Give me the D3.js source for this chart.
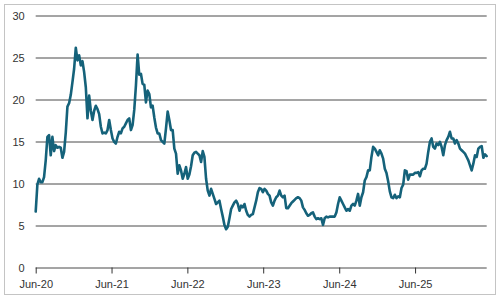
<!DOCTYPE html>
<html>
<head>
<meta charset="utf-8">
<script src="https://cdn.jsdelivr.net/npm/d3@7"></script>
<style>
  html, body { margin: 0; padding: 0; background: #fff; }
  svg { display: block; }
  text { font-family: "Liberation Sans", Arial, Helvetica, sans-serif; }
</style>
</head>
<body>
<svg id="chart" width="500" height="300"></svg>
<script>
// ---- data ----
const startDate = "2020-06-01";
const stepDays = 8.04; // sampling interval of the series
const values = [
  // Jun 2020 - mid 2021
  6.6, 9.8, 10.5, 10.1, 10.1, 10.7, 12.7, 15.5, 15.7, 13.3, 15.5, 13.8, 14.5, 14.2, 14.3, 14.2, 13.0, 13.7, 16.0, 19.1,
  19.5, 20.5, 22.0, 23.6, 26.1, 24.6, 25.2, 24.0, 24.5, 23.2, 21.4, 17.7, 20.4, 18.6, 17.5, 18.6, 19.2, 18.8, 18.2, 16.7,
  15.9, 16.0, 15.9, 16.3,
  17.5, 16.3, 15.3, 14.9, 14.7, 15.5, 16.1, 15.9, 16.5, 16.7, 17.1, 17.5, 17.7, 16.3, 16.9, 18.7, 21.6, 25.3, 22.9, 23.0,
  21.8, 21.7, 19.6, 21.0, 20.6, 19.0, 19.2, 17.8, 16.6, 15.9, 15.9, 15.1, 14.9, 14.7, 16.5, 18.5, 17.5, 16.3, 16.3, 14.1,
  13.5, 11.1, 12.1, 11.5, 10.5, 11.1, 11.9, 10.5,
  11.0, 12.0, 13.3, 13.6, 13.7, 13.5, 13.3, 12.5, 13.8, 13.1, 10.5, 9.1, 8.5, 9.3, 8.7, 8.1, 7.5, 7.7, 7.9, 6.9,
  6.0, 5.0, 4.5, 4.8, 5.8, 6.9, 7.3, 7.7, 7.9, 7.5, 6.7, 7.3, 7.1, 7.5, 6.7, 6.2, 6.0, 6.2, 6.3, 7.1,
  7.9, 8.9, 9.4, 9.3, 8.9, 9.3, 9.1, 8.7, 8.5, 7.7, 7.3, 7.9, 8.3, 8.5,
  9.1, 8.5, 8.3, 8.5, 7.0, 7.0, 7.3, 7.6, 7.8, 8.0, 8.2, 8.3, 8.2, 7.9, 7.1, 6.8, 6.4, 6.1, 6.2, 6.4,
  6.5, 6.0, 5.7, 5.8, 5.7, 5.8, 5.0, 5.8, 6.0, 5.9, 6.0, 6.0, 6.0, 6.0, 6.5, 7.5, 8.3, 7.9, 7.5, 7.1,
  6.7, 6.9, 6.7, 7.3, 7.5, 7.3, 7.9, 8.7, 7.3, 8.3, 8.9, 10.3, 10.7, 11.5,
  11.5, 13.1, 14.3, 14.1, 13.7, 13.3, 13.9, 13.5, 12.9, 11.7, 11.2, 10.2, 9.0, 8.3, 8.2, 8.6, 8.2, 8.4, 8.3, 9.4,
  9.8, 11.5, 11.4, 10.4, 11.0, 11.0, 11.0, 11.2, 11.2, 11.3, 10.8, 11.5, 11.7, 11.7, 12.3, 13.7, 14.9, 15.3, 14.3, 14.1,
  14.7, 14.5, 14.9, 14.3, 13.3, 14.5, 15.1, 15.5, 16.1, 15.3, 15.3, 14.7, 15.1, 14.7, 14.1, 13.9, 13.7, 13.5, 13.1, 12.7,
  12.1, 11.5, 12.3, 13.3, 13.1, 14.1, 14.3, 14.4, 13.0, 13.4, 13.2
];
const yTicks = [0, 5, 10, 15, 20, 25, 30];
const xTickDates = ["2020-06-01", "2021-06-01", "2022-06-01", "2023-06-01", "2024-06-01", "2025-06-01"];
const xTickLabels = ["Jun-20", "Jun-21", "Jun-22", "Jun-23", "Jun-24", "Jun-25"];

// ---- build ----
const parse = d3.utcParse("%Y-%m-%d");
const t0 = parse(startDate);
const DAY = 86400000;
const data = values.map((v, i) => ({ date: new Date(t0.getTime() + i * stepDays * DAY), value: v }));

const svg = d3.select("#chart");
const plotLeft = 35.7, plotRight = 486.7, plotTop = 15, plotBottom = 267;

svg.append("rect")
  .attr("x", 4.5).attr("y", 4.5).attr("width", 491).attr("height", 290)
  .attr("fill", "none").attr("stroke", "#c4c4c4").attr("stroke-width", 1);

const x = d3.scaleUtc()
  .domain(d3.extent(data, d => d.date))
  .range([plotLeft, plotRight]);
const y = d3.scaleLinear().domain([0, 30]).range([plotBottom, plotTop]);

// gridlines + y labels
const yAxis = d3.axisLeft(y)
  .tickValues(yTicks)
  .tickSize(-(plotRight - plotLeft))
  .tickPadding(11)
  .tickFormat(d3.format("d"));
const gy = svg.append("g").attr("transform", `translate(${plotLeft},0.5)`).call(yAxis);
gy.select(".domain").remove();
gy.selectAll(".tick line").attr("stroke", "#4a4a4a").attr("stroke-width", 1);
gy.selectAll(".tick text").attr("fill", "#333").attr("font-size", 11);

// x axis
const xAxis = d3.axisBottom(x)
  .tickValues(xTickDates.map(parse))
  .tickSize(6)
  .tickPadding(7)
  .tickFormat((d, i) => xTickLabels[i]);
const gx = svg.append("g").attr("transform", `translate(0,${plotBottom + 0.5})`).call(xAxis);
gx.select(".domain").remove();
gx.selectAll(".tick line").attr("stroke", "#333");
gx.selectAll(".tick text").attr("fill", "#333").attr("font-size", 11);

// line
const line = d3.line()
  .x(d => x(d.date))
  .y(d => y(d.value));
svg.append("path")
  .datum(data)
  .attr("fill", "none")
  .attr("stroke", "#15627a")
  .attr("stroke-width", 2.6)
  .attr("stroke-linejoin", "round")
  .attr("stroke-linecap", "round")
  .attr("d", line);
</script>
</body>
</html>
